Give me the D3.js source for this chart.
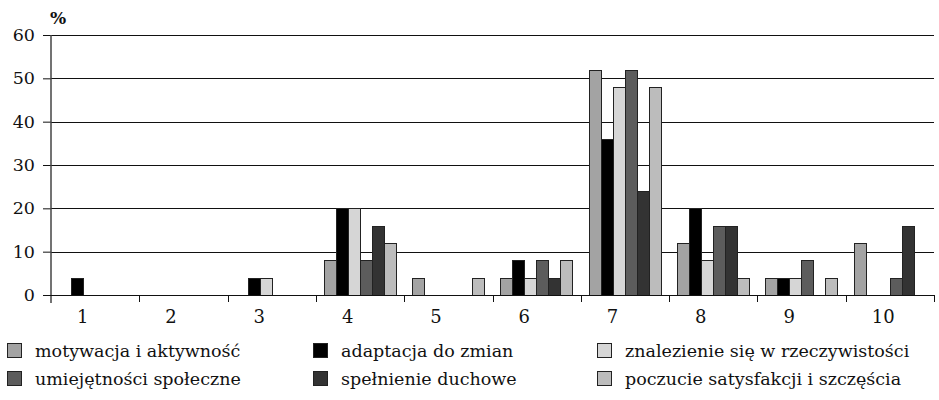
<!DOCTYPE html>
<html><head><meta charset="utf-8">
<script src="https://cdn.jsdelivr.net/npm/d3@7"></script>
<style>body{margin:0;background:#fff}svg{display:block}</style>
</head><body>
<svg id="c" width="939" height="400"></svg>
<script>
const categories = ["1","2","3","4","5","6","7","8","9","10"];
const seriesNames = ["motywacja i aktywność","adaptacja do zmian","znalezienie się w rzeczywistości","umiejętności społeczne","spełnienie duchowe","poczucie satysfakcji i szczęścia"];
const motywacja    = [0,0,0,8,4,4,52,12,4,12];
const adaptacja    = [4,0,4,20,0,8,36,20,4,0];
const znalezienie  = [0,0,4,20,0,4,48,8,4,0];
const umiejetnosci = [0,0,0,8,0,8,52,16,8,4];
const spelnienie   = [0,0,0,16,0,4,24,16,0,16];
const poczucie     = [0,0,0,12,4,8,48,4,4,0];
const yTicks = [0,10,20,30,40,50,60];
const colors = ["#a3a3a3","#000000","#d6d6d6","#5c5c5c","#333333","#bcbcbc"];

const FONT = "'DejaVu Serif', serif";
const series = [motywacja,adaptacja,znalezienie,umiejetnosci,spelnienie,poczucie];
const svg = d3.select("#c").style("font-family",FONT);
const x0 = 51, x1 = 934, yTop = 35, yBot = 295;
const x = d3.scaleBand().domain(categories).range([x0,x1]);
const bw = x.bandwidth();
const xs = d3.scaleBand().domain(d3.range(6)).range([bw*0.09, bw*0.09 + 72]);
const y = d3.scaleLinear().domain([0,60]).range([yBot,yTop]);

// gridlines
svg.append("g").selectAll("line").data(yTicks.filter(d=>d>0)).join("line")
  .attr("x1",x0).attr("x2",x1).attr("y1",d=>Math.round(y(d))+0.5).attr("y2",d=>Math.round(y(d))+0.5)
  .attr("stroke","#111").attr("stroke-width",1);

// bars
const data = [];
categories.forEach((c,i)=>series.forEach((s,j)=>{ if(s[i]>0) data.push({c,j,v:s[i]}); }));
svg.append("g").selectAll("rect").data(data).join("rect")
  .attr("x",d=>Math.round(x(d.c)+xs(d.j))+0.5).attr("width",xs.bandwidth())
  .attr("y",d=>Math.round(y(d.v))+0.5).attr("height",d=>Math.round(y(0))-Math.round(y(d.v)))
  .attr("fill",d=>colors[d.j]).attr("stroke","#222").attr("stroke-width",1);

// y axis
const gy = svg.append("g").attr("transform",`translate(${x0},0)`)
  .call(d3.axisLeft(y).tickValues(yTicks).tickSize(8).tickPadding(8).tickFormat(d3.format("d")));
gy.attr("font-family",FONT).attr("font-size",17.5);
gy.select(".domain").remove();
gy.selectAll(".tick line").attr("stroke","#111");
gy.selectAll("text").attr("fill","#111");
svg.append("line").attr("x1",x0).attr("x2",x0).attr("y1",yTop).attr("y2",yBot+8)
  .attr("stroke","#444").attr("stroke-width",1.5);

// x axis
const gx = svg.append("g").attr("transform",`translate(0,${yBot})`);
gx.append("line").attr("x1",x0-8).attr("x2",x1).attr("y1",0.5).attr("y2",0.5).attr("stroke","#111").attr("stroke-width",1.2);
gx.selectAll(".tk").data(categories).join("line").attr("class","tk")
  .attr("x1",d=>Math.round(x(d)+bw)+0.5).attr("x2",d=>Math.round(x(d)+bw)+0.5).attr("y1",0).attr("y2",7)
  .attr("stroke","#111");
gx.selectAll("text").data(categories).join("text")
  .attr("x",d=>x(d)+26).attr("y",28).attr("text-anchor","start")
  .attr("font-size",18).attr("fill","#111").text(d=>d);

svg.append("text").attr("x",50).attr("y",24).attr("font-size",17).attr("font-weight","bold").attr("fill","#111").text("%");

// legend
const legX = [7,313,597], legY = [343,371];
const leg = svg.append("g").selectAll("g").data(seriesNames).join("g")
  .attr("transform",(d,i)=>`translate(${legX[i%3]},${legY[Math.floor(i/3)]})`);
leg.append("rect").attr("x",0.5).attr("y",0.5).attr("width",14).attr("height",14)
  .attr("fill",(d,i)=>colors[i]).attr("stroke","#222");
leg.append("text").attr("x",28).attr("y",14).attr("font-size",17.5).attr("fill","#111").text(d=>d);
</script>
</body></html>
